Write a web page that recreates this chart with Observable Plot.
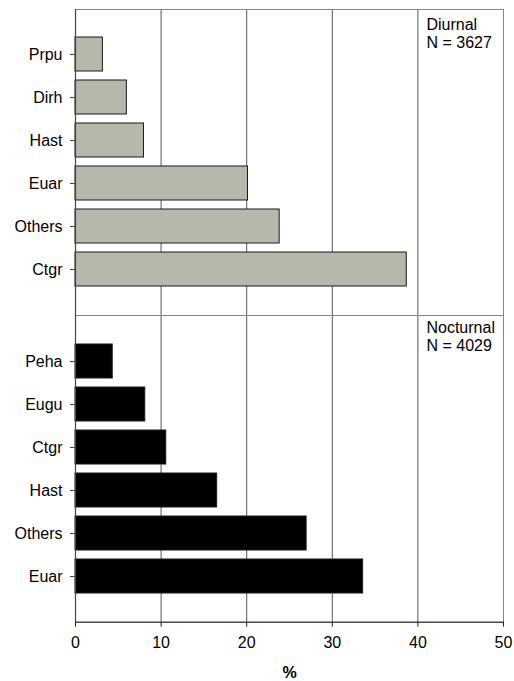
<!DOCTYPE html>
<html>
<head>
<meta charset="utf-8">
<script src="https://cdn.jsdelivr.net/npm/d3@7"></script>
<script src="https://cdn.jsdelivr.net/npm/@observablehq/plot@0.6"></script>
<style>
  body { margin: 0; background: #fff; }
  #chart { width: 514px; font-family: "Liberation Sans", Arial, sans-serif; }
  #chart svg { display: block; font-family: "Liberation Sans", Arial, sans-serif; }
  #chart g[aria-label="x-axis label"] text { font-weight: bold; }
</style>
</head>
<body>
<div id="chart"></div>
<script>
// Diurnal panel (top), categories top-to-bottom
const diurnalSpecies = ["Prpu", "Dirh", "Hast", "Euar", "Others", "Ctgr"];
const diurnalValues  = [3.2, 6.0, 8.0, 20.15, 23.85, 38.7];
// Nocturnal panel (bottom)
const nocturnalSpecies = ["Peha", "Eugu", "Ctgr", "Hast", "Others", "Euar"];
const nocturnalValues  = [4.35, 8.15, 10.6, 16.55, 27.0, 33.6];
// Axis
const xTicks = [0, 10, 20, 30, 40, 50];
const gridTicks = [10, 20, 30, 40];
// Panel labels
const panelLabels = ["Diurnal\nN = 3627", "Nocturnal\nN = 4029"];
const labelX = 41;

const diurnal = diurnalSpecies.map((s, i) => ({species: s, value: diurnalValues[i]}));
const nocturnal = nocturnalSpecies.map((s, i) => ({species: s, value: nocturnalValues[i]}));

const common = {
  width: 514,
  marginLeft: 75,
  marginRight: 11,
  style: {fontSize: "16px", fontFamily: "'Liberation Sans', Arial, sans-serif", color: "#000"}
};

function panel(data, domain, fill, label, bottom) {
  return Plot.plot({
    ...common,
    height: bottom ? 366 : 315,
    marginTop: bottom ? 0 : 9,
    marginBottom: bottom ? 59.3 : 0,
    x: {domain: [0, 50]},
    y: {domain, paddingInner: 0.2, paddingOuter: 0.6},
    marks: [
      Plot.ruleX(gridTicks, {stroke: "#555", strokeWidth: 1}),
      Plot.frame({stroke: "#888", strokeWidth: 1}),
      bottom ? Plot.frame({anchor: "bottom", stroke: "#222", strokeWidth: 1}) : null,
      Plot.barX(data, {x: "value", y: "species", fill, stroke: "#1a1a1a", strokeWidth: 1}),
      Plot.ruleX([0], {stroke: "#444", strokeWidth: 1.2}),
      Plot.axisY({tickSize: 5, tickPadding: 8, label: null, stroke: "#444", fontSize: 16}),
      bottom
        ? Plot.axisX({ticks: xTicks, tickSize: 5, tickPadding: 9, label: "%", labelAnchor: "center", labelArrow: "none", labelOffset: 56, stroke: "#222", fontSize: 16})
        : Plot.axisX({ticks: [], label: null}),
      Plot.text([label], {x: () => labelX, frameAnchor: "top", textAnchor: "start", lineAnchor: "top", lineHeight: 1.13, dy: bottom ? 5 : 8, fontSize: 16, fill: "#000"})
    ]
  });
}

const chart = document.getElementById("chart");
chart.append(panel(diurnal, diurnalSpecies, "#b7b7ab", panelLabels[0], false));
chart.append(panel(nocturnal, nocturnalSpecies, "#000", panelLabels[1], true));
</script>
</body>
</html>
